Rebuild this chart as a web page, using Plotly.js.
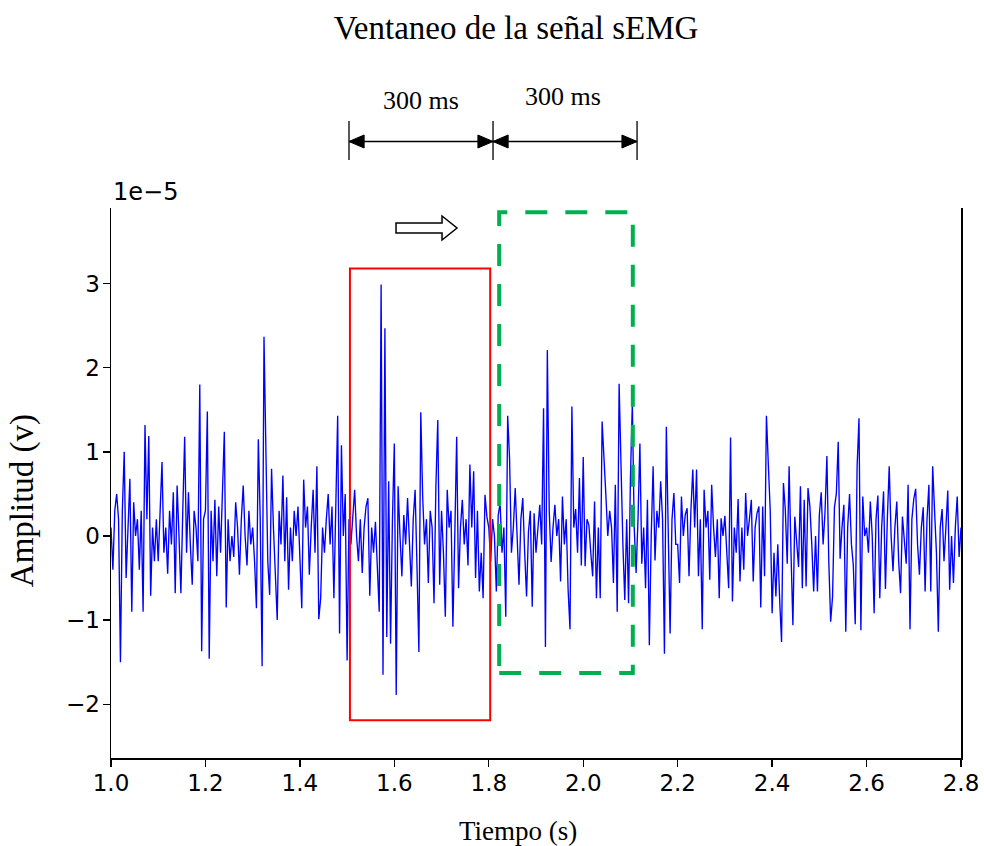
<!DOCTYPE html>
<html>
<head>
<meta charset="utf-8">
<script src="https://cdn.plot.ly/plotly-3.0.1.min.js"></script>
<style>html,body{margin:0;padding:0;background:#fff;}#chart{width:984px;height:846px;}</style>
</head>
<body>
<div id="chart"></div>
<script>
// Sampling of the sEMG trace (s)
const tStart = 1.0;
const tStep = 0.004;

// Amplitude in units of 1e-5 V (one row = 0.1 s)
const amplitude = [
 0.1,-0.4,0.3,0.5,0.2,-1.5,0.3,1.0,-0.5,0.1,0.68,-0.9,0.4,0.0,0.2,-0.4,0.3,-0.9,1.32,0.2,1.19,-0.71,0.1,-0.3,0.2,
 -0.3,0.2,0.88,-0.2,0.1,-0.45,0.3,-0.1,0.52,-0.68,0.6,0.0,-0.68,0.3,1.18,-0.2,0.52,-0.1,-0.58,0.3,0.1,-0.3,1.8,-1.37,0.2,
 0.3,1.48,-1.46,0.3,-0.3,0.43,-0.48,0.35,-0.2,0.4,1.24,-0.85,0.2,-0.3,0.0,-0.25,0.4,0.1,-0.46,0.2,0.6,0.0,-0.35,0.3,-0.1,
 0.1,-0.3,-0.86,1.15,0.2,-1.55,2.37,0.9,-0.3,-0.7,0.8,0.1,-0.42,-1.0,0.3,-0.1,0.72,-0.3,0.46,-0.64,0.1,-0.3,0.3,0.0,0.35,
 -0.2,-0.86,0.67,0.1,0.35,-0.46,0.1,0.55,-0.2,0.83,-0.99,-0.74,0.1,-0.2,0.2,0.5,-0.1,0.35,-0.74,0.2,1.43,-1.16,1.08,0.0,0.5,
 -1.48,0.2,-0.1,0.3,0.55,0.0,-0.3,0.2,-0.44,0.1,0.35,0.45,-0.71,0.1,-0.2,0.17,-0.36,-0.9,2.99,-1.65,2.47,-1.2,0.65,-1.28,0.2,
 1.1,-1.89,0.59,0.0,-0.48,0.25,-0.1,0.45,0.0,-0.6,0.2,0.55,-0.37,-1.38,1.47,0.47,-0.1,0.2,-0.56,0.3,0.1,-0.8,0.59,1.38,-0.58,
 0.3,-0.2,-0.96,0.55,0.1,0.3,-1.08,0.0,1.18,-0.62,0.1,0.43,-0.1,0.2,-0.35,0.85,0.1,0.77,-0.5,0.3,-0.66,-0.2,-0.74,0.49,0.23,
 0.1,-0.3,0.2,0.0,-0.66,0.25,0.39,-0.2,0.1,-0.96,1.43,0.92,-0.2,0.1,0.57,-0.1,-0.58,0.2,0.45,-0.2,-0.72,0.05,0.3,-0.84,0.27,
 -0.2,0.1,0.37,-0.1,1.52,-1.32,2.21,0.3,-0.31,0.1,0.37,0.0,0.2,-0.54,0.47,-0.1,0.2,-0.64,-1.11,1.54,0.1,0.32,-0.2,0.69,-0.35,
 0.94,-0.36,0.2,0.13,-0.2,-0.48,0.41,-0.74,0.1,-0.74,1.36,0.98,0.48,0.0,0.3,0.1,-0.56,0.61,-0.9,1.81,0.71,-0.1,-0.76,0.2,-0.8,
 0.69,1.58,0.1,-0.44,0.2,1.1,-0.33,0.1,-0.62,0.43,-1.3,0.0,0.83,-0.29,0.3,0.1,0.65,0.2,-1.4,1.3,0.1,-1.16,0.2,0.51,-0.1,
 -0.1,-0.56,0.47,0.0,0.25,0.33,-0.48,0.3,0.79,0.1,0.79,-0.48,0.2,-1.11,0.55,0.1,0.3,-0.52,0.61,0.1,-0.25,0.2,-0.74,0.21,0.0,
 0.24,-0.2,-0.62,1.17,-0.78,0.1,-0.2,0.44,-0.54,0.1,-0.4,0.51,0.0,0.2,0.43,-0.54,0.1,0.27,0.35,-0.85,0.35,-0.48,1.43,0.85,0.3,
 -0.92,-0.2,-0.72,-0.1,-0.76,-1.26,0.63,0.31,-0.33,0.83,-0.2,-1.06,0.23,-0.1,-0.37,0.59,-0.62,0.43,-0.6,0.57,0.35,-0.1,-0.66,0.0,-0.66,
 0.25,0.52,-0.1,0.28,0.95,-0.3,-1.02,-0.72,0.34,0.5,1.12,-0.27,0.1,0.37,-1.14,0.1,0.5,-0.1,-0.35,-1.05,0.83,1.4,-1.12,0.47,0.0,
 0.1,-0.2,0.41,0.0,-0.92,0.2,0.48,-0.74,0.1,0.53,-0.63,0.2,0.83,0.0,-0.42,0.1,0.41,-0.3,-0.68,0.23,-0.1,-0.33,0.61,-1.11,0.2,
 0.44,0.56,-0.1,-0.46,0.1,0.34,-0.66,0.2,0.61,-0.66,0.83,0.3,-0.2,-1.14,0.1,0.32,-0.3,0.1,0.54,-0.64,0.0,-0.56,0.1,0.47,-0.25,0.1
];

// Axis ticks
const xTickVals = [1.0,1.2,1.4,1.6,1.8,2.0,2.2,2.4,2.6,2.8];
const xTickText = ['1.0','1.2','1.4','1.6','1.8','2.0','2.2','2.4','2.6','2.8'];
const yTickVals = [-2,-1,0,1,2,3];
const yTickText = ['\u22122','\u22121','0','1','2','3'];

// Window annotations (time in s)
const window1 = [1.506, 1.803];
const window2 = [1.822, 2.105];
const dimBars = [1.504, 1.809, 2.114];
const dimLabels = ['300 ms', '300 ms'];

const serif = 'Liberation Serif, Times New Roman, serif';
const sans = 'DejaVu Sans, sans-serif';

const trace = {
  type: 'scatter', mode: 'lines',
  x0: tStart, dx: tStep, y: amplitude,
  line: {color: '#0000ff', width: 1.35},
  hoverinfo: 'skip'
};

// dimension-line geometry in paper y
const yArrow = 1.1209, yBarTop = 1.1582, yBarBot = 1.0873, headLen = 0.032, headH = 0.0118;

const shapes = [
  {type:'rect', xref:'x', yref:'y', x0:window1[0], x1:window1[1], y0:-2.19, y1:3.18, line:{color:'#ff0000', width:2}},
  {type:'rect', xref:'x', yref:'y', x0:window2[0], x1:window2[1], y0:-1.63, y1:3.85, line:{color:'#00b050', width:4, dash:'22px,18px'}}
];
dimBars.forEach(function(b){
  shapes.push({type:'line', xref:'x', yref:'paper', x0:b, x1:b, y0:yBarBot, y1:yBarTop, line:{color:'#000', width:1.3}});
});
for (let i = 0; i < 2; i++) {
  const a = dimBars[i], b = dimBars[i+1];
  shapes.push({type:'line', xref:'x', yref:'paper', x0:a, x1:b, y0:yArrow, y1:yArrow, line:{color:'#000', width:1.3}});
  shapes.push({type:'path', xref:'x', yref:'paper', fillcolor:'#000', line:{color:'#000', width:1},
    path:'M'+a+','+yArrow+' L'+(a+headLen)+','+(yArrow+headH)+' L'+(a+headLen)+','+(yArrow-headH)+' Z'});
  shapes.push({type:'path', xref:'x', yref:'paper', fillcolor:'#000', line:{color:'#000', width:1},
    path:'M'+b+','+yArrow+' L'+(b-headLen)+','+(yArrow+headH)+' L'+(b-headLen)+','+(yArrow-headH)+' Z'});
}
// hollow arrow
shapes.push({type:'path', xref:'x', yref:'paper', fillcolor:'#fff', line:{color:'#000', width:1.5},
  path:'M1.6036,0.9727 L1.7010,0.9727 L1.7010,0.9855 L1.7327,0.9636 L1.7010,0.9418 L1.7010,0.9545 L1.6036,0.9545 Z'});

const annotations = [
  {text: dimLabels[0], xref:'x', yref:'paper', x:(dimBars[0]+dimBars[1])/2, y:1.196, xanchor:'center', yanchor:'middle', showarrow:false, font:{family:serif, size:26, color:'#000'}},
  {text: dimLabels[1], xref:'x', yref:'paper', x:(dimBars[1]+dimBars[2])/2 - 0.004, y:1.202, xanchor:'center', yanchor:'middle', showarrow:false, font:{family:serif, size:26, color:'#000'}},
  {text:'Tiempo (s)', xref:'paper', yref:'paper', x:0.479, y:-0.132, xanchor:'center', yanchor:'middle', showarrow:false, font:{family:serif, size:27, color:'#000'}},
  {text:'Amplitud (v)', xref:'paper', yref:'paper', x:-0.1047, y:0.467, xanchor:'center', yanchor:'middle', textangle:-90, showarrow:false, font:{family:serif, size:33, color:'#000'}},
  {text:'1e\u22125', xref:'paper', yref:'paper', x:0.0, y:1.03, xanchor:'left', yanchor:'middle', showarrow:false, font:{family:sans, size:24, color:'#000'}}
];

const layout = {
  width: 984, height: 846,
  margin: {l:111, r:23, t:208, b:88},
  paper_bgcolor:'#fff', plot_bgcolor:'#fff',
  showlegend:false,
  title: {text:'Ventaneo de la señal sEMG', font:{family:serif, size:33, color:'#000'}, xref:'paper', x:0.4765, xanchor:'center', yref:'container', y:0.968, yanchor:'middle'},
  xaxis: {range:[1.0, 2.8], tickvals:xTickVals, ticktext:xTickText, ticks:'outside', ticklen:7, tickwidth:1.3, tickcolor:'#000',
          ticklabelstandoff:-3,
          showline:true, linecolor:'#000', linewidth:1.5, showgrid:false, zeroline:false,
          tickfont:{family:sans, size:23, color:'#000'}},
  yaxis: {range:[-2.64, 3.9], tickvals:yTickVals, ticktext:yTickText, ticks:'outside', ticklen:7, tickwidth:1.3, tickcolor:'#000',
          ticklabelstandoff:-2,
          showline:true, mirror:true, linecolor:'#000', linewidth:1.5, showgrid:false, zeroline:false,
          tickfont:{family:sans, size:23, color:'#000'}},
  shapes: shapes,
  annotations: annotations
};

Plotly.newPlot('chart', [trace], layout, {staticPlot:true, displayModeBar:false});
</script>
</body>
</html>
